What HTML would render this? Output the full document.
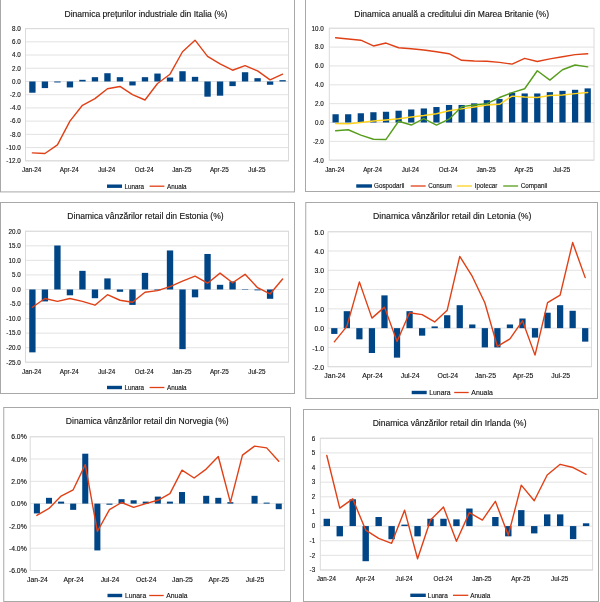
<!DOCTYPE html>
<html><head><meta charset="utf-8"><title>Charts</title>
<style>html,body{margin:0;padding:0;background:#fff}svg{display:block}text{font-family:"Liberation Sans",sans-serif;fill:#111;stroke:#111;stroke-width:0.12px}</style>
</head><body>
<svg width="600" height="602" viewBox="0 0 600 602">
<rect x="0" y="0" width="600" height="602" fill="#fff"/>
<rect x="0.5" y="-2" width="294" height="193.9" fill="#fff" stroke="#a8a8a8" stroke-width="1"/>
<line x1="25.5" y1="28.6" x2="288.5" y2="28.6" stroke="#dadada" stroke-width="0.8"/>
<line x1="25.5" y1="41.82" x2="288.5" y2="41.82" stroke="#dadada" stroke-width="0.8"/>
<line x1="25.5" y1="55.04" x2="288.5" y2="55.04" stroke="#dadada" stroke-width="0.8"/>
<line x1="25.5" y1="68.26" x2="288.5" y2="68.26" stroke="#dadada" stroke-width="0.8"/>
<line x1="25.5" y1="81.48" x2="288.5" y2="81.48" stroke="#dadada" stroke-width="0.8"/>
<line x1="25.5" y1="94.7" x2="288.5" y2="94.7" stroke="#dadada" stroke-width="0.8"/>
<line x1="25.5" y1="107.92" x2="288.5" y2="107.92" stroke="#dadada" stroke-width="0.8"/>
<line x1="25.5" y1="121.14" x2="288.5" y2="121.14" stroke="#dadada" stroke-width="0.8"/>
<line x1="25.5" y1="134.36" x2="288.5" y2="134.36" stroke="#dadada" stroke-width="0.8"/>
<line x1="25.5" y1="147.58" x2="288.5" y2="147.58" stroke="#dadada" stroke-width="0.8"/>
<line x1="25.5" y1="160.8" x2="288.5" y2="160.8" stroke="#dadada" stroke-width="0.8"/>
<rect x="25.5" y="28.6" width="263" height="132.2" fill="none" stroke="#dadada" stroke-width="1"/>
<text x="20.7" y="30.9" text-anchor="end" font-size="6.3">8.0</text>
<text x="20.7" y="44.12" text-anchor="end" font-size="6.3">6.0</text>
<text x="20.7" y="57.34" text-anchor="end" font-size="6.3">4.0</text>
<text x="20.7" y="70.56" text-anchor="end" font-size="6.3">2.0</text>
<text x="20.7" y="83.78" text-anchor="end" font-size="6.3">0.0</text>
<text x="20.7" y="97" text-anchor="end" font-size="6.3">-2.0</text>
<text x="20.7" y="110.22" text-anchor="end" font-size="6.3">-4.0</text>
<text x="20.7" y="123.44" text-anchor="end" font-size="6.3">-6.0</text>
<text x="20.7" y="136.66" text-anchor="end" font-size="6.3">-8.0</text>
<text x="20.7" y="149.88" text-anchor="end" font-size="6.3">-10.0</text>
<text x="20.7" y="163.1" text-anchor="end" font-size="6.3">-12.0</text>
<rect x="29.22" y="81.48" width="6.35" height="11.24" fill="#004586"/>
<rect x="41.73" y="81.48" width="6.35" height="6.61" fill="#004586"/>
<rect x="54.25" y="81.48" width="6.35" height="0.99" fill="#004586"/>
<rect x="66.76" y="81.48" width="6.35" height="5.95" fill="#004586"/>
<rect x="79.27" y="79.83" width="6.35" height="1.65" fill="#004586"/>
<rect x="91.78" y="77.18" width="6.35" height="4.3" fill="#004586"/>
<rect x="104.29" y="73.22" width="6.35" height="8.26" fill="#004586"/>
<rect x="116.8" y="77.18" width="6.35" height="4.3" fill="#004586"/>
<rect x="129.31" y="81.48" width="6.35" height="3.97" fill="#004586"/>
<rect x="141.81" y="77.18" width="6.35" height="4.3" fill="#004586"/>
<rect x="154.33" y="73.55" width="6.35" height="7.93" fill="#004586"/>
<rect x="166.84" y="77.51" width="6.35" height="3.97" fill="#004586"/>
<rect x="179.34" y="71.23" width="6.35" height="10.25" fill="#004586"/>
<rect x="191.86" y="76.85" width="6.35" height="4.63" fill="#004586"/>
<rect x="204.37" y="81.48" width="6.35" height="15.2" fill="#004586"/>
<rect x="216.88" y="81.48" width="6.35" height="14.21" fill="#004586"/>
<rect x="229.39" y="81.48" width="6.35" height="4.63" fill="#004586"/>
<rect x="241.9" y="72.23" width="6.35" height="9.25" fill="#004586"/>
<rect x="254.41" y="78.18" width="6.35" height="3.31" fill="#004586"/>
<rect x="266.92" y="81.48" width="6.35" height="3.3" fill="#004586"/>
<rect x="279.43" y="80.16" width="6.35" height="1.32" fill="#004586"/>
<polyline points="32.4,152.87 44.91,153.53 57.42,144.94 69.93,121.14 82.44,105.28 94.95,98.67 107.46,88.75 119.97,86.44 132.48,94.7 144.99,99.99 157.5,83.46 170.01,74.21 182.52,51.73 195.03,40.17 207.54,56.36 220.05,63.96 232.56,70.24 245.07,65.62 257.58,70.9 270.09,79.83 282.6,74.21" fill="none" stroke="#e04016" stroke-width="1.4" stroke-linejoin="round" stroke-linecap="round"/>
<text x="31.7" y="171.8" text-anchor="middle" font-size="6.3">Jan-24</text>
<text x="69.23" y="171.8" text-anchor="middle" font-size="6.3">Apr-24</text>
<text x="106.76" y="171.8" text-anchor="middle" font-size="6.3">Jul-24</text>
<text x="144.29" y="171.8" text-anchor="middle" font-size="6.3">Oct-24</text>
<text x="181.82" y="171.8" text-anchor="middle" font-size="6.3">Jan-25</text>
<text x="219.35" y="171.8" text-anchor="middle" font-size="6.3">Apr-25</text>
<text x="256.88" y="171.8" text-anchor="middle" font-size="6.3">Jul-25</text>
<text x="146" y="16.8" text-anchor="middle" font-size="8.55">Dinamica prețurilor industriale din Italia (%)</text>
<rect x="107" y="184.5" width="15" height="3.4" fill="#004586"/>
<text x="124.4" y="188.5" font-size="6.3">Lunara</text>
<line x1="149.6" y1="186.2" x2="164.4" y2="186.2" stroke="#e04016" stroke-width="1.3"/>
<text x="167" y="188.5" font-size="6.3">Anuala</text>
<rect x="305.5" y="-2" width="296.5" height="193.5" fill="#fff" stroke="#a8a8a8" stroke-width="1"/>
<line x1="329.3" y1="28.25" x2="594" y2="28.25" stroke="#dadada" stroke-width="0.8"/>
<line x1="329.3" y1="47.1" x2="594" y2="47.1" stroke="#dadada" stroke-width="0.8"/>
<line x1="329.3" y1="65.95" x2="594" y2="65.95" stroke="#dadada" stroke-width="0.8"/>
<line x1="329.3" y1="84.8" x2="594" y2="84.8" stroke="#dadada" stroke-width="0.8"/>
<line x1="329.3" y1="103.65" x2="594" y2="103.65" stroke="#dadada" stroke-width="0.8"/>
<line x1="329.3" y1="122.5" x2="594" y2="122.5" stroke="#dadada" stroke-width="0.8"/>
<line x1="329.3" y1="141.35" x2="594" y2="141.35" stroke="#dadada" stroke-width="0.8"/>
<line x1="329.3" y1="160.2" x2="594" y2="160.2" stroke="#dadada" stroke-width="0.8"/>
<rect x="329.3" y="28.25" width="264.7" height="131.95" fill="none" stroke="#dadada" stroke-width="1"/>
<text x="323.8" y="30.55" text-anchor="end" font-size="6.3">10.0</text>
<text x="323.8" y="49.4" text-anchor="end" font-size="6.3">8.0</text>
<text x="323.8" y="68.25" text-anchor="end" font-size="6.3">6.0</text>
<text x="323.8" y="87.1" text-anchor="end" font-size="6.3">4.0</text>
<text x="323.8" y="105.95" text-anchor="end" font-size="6.3">2.0</text>
<text x="323.8" y="124.8" text-anchor="end" font-size="6.3">0.0</text>
<text x="323.8" y="143.65" text-anchor="end" font-size="6.3">-2.0</text>
<text x="323.8" y="162.5" text-anchor="end" font-size="6.3">-4.0</text>
<rect x="332.48" y="114.25" width="6.25" height="8.25" fill="#004586"/>
<rect x="345.08" y="114.25" width="6.25" height="8.25" fill="#004586"/>
<rect x="357.69" y="113.26" width="6.25" height="9.24" fill="#004586"/>
<rect x="370.29" y="112.23" width="6.25" height="10.27" fill="#004586"/>
<rect x="382.9" y="111.76" width="6.25" height="10.74" fill="#004586"/>
<rect x="395.5" y="110.72" width="6.25" height="11.78" fill="#004586"/>
<rect x="408.11" y="109.49" width="6.25" height="13.01" fill="#004586"/>
<rect x="420.71" y="108.46" width="6.25" height="14.04" fill="#004586"/>
<rect x="433.32" y="107.04" width="6.25" height="15.46" fill="#004586"/>
<rect x="445.92" y="104.97" width="6.25" height="17.53" fill="#004586"/>
<rect x="458.53" y="104.97" width="6.25" height="17.53" fill="#004586"/>
<rect x="471.13" y="103.37" width="6.25" height="19.13" fill="#004586"/>
<rect x="483.74" y="100.16" width="6.25" height="22.34" fill="#004586"/>
<rect x="496.34" y="98.94" width="6.25" height="23.56" fill="#004586"/>
<rect x="508.95" y="92.72" width="6.25" height="29.78" fill="#004586"/>
<rect x="521.55" y="93.47" width="6.25" height="29.03" fill="#004586"/>
<rect x="534.15" y="93.47" width="6.25" height="29.03" fill="#004586"/>
<rect x="546.76" y="92.15" width="6.25" height="30.35" fill="#004586"/>
<rect x="559.37" y="90.83" width="6.25" height="31.67" fill="#004586"/>
<rect x="571.97" y="89.8" width="6.25" height="32.7" fill="#004586"/>
<rect x="584.58" y="88.38" width="6.25" height="34.12" fill="#004586"/>
<polyline points="335.6,37.77 348.21,38.99 360.81,40.22 373.42,45.97 386.02,43.05 398.62,47.76 411.23,48.8 423.84,50.02 436.44,51.81 449.05,53.7 461.65,60.3 474.25,61.05 486.86,61.24 499.47,62.37 512.07,64.16 524.68,58.41 537.28,61.52 549.88,58.88 562.49,56.71 575.1,54.64 587.7,53.79" fill="none" stroke="#e04016" stroke-width="1.4" stroke-linejoin="round" stroke-linecap="round"/>
<polyline points="335.6,123.44 348.21,123.73 360.81,122.5 373.42,120.99 386.02,119.96 398.62,118.73 411.23,117.03 423.84,115.53 436.44,113.73 449.05,110.72 461.65,108.83 474.25,106.95 486.86,104.97 499.47,104.31 512.07,96.11 524.68,97.05 537.28,97.52 549.88,95.54 562.49,94.98 575.1,93.66 587.7,92.43" fill="none" stroke="#ffd320" stroke-width="1.4" stroke-linejoin="round" stroke-linecap="round"/>
<polyline points="335.6,130.75 348.21,129.76 360.81,135.04 373.42,139.28 386.02,139.47 398.62,121.27 411.23,125.04 423.84,118.73 436.44,125.04 449.05,119.2 461.65,106.67 474.25,105.06 486.86,103.65 499.47,97.52 512.07,92.62 524.68,88.76 537.28,70.76 549.88,80.09 562.49,69.72 575.1,65.01 587.7,66.89" fill="none" stroke="#579d1c" stroke-width="1.4" stroke-linejoin="round" stroke-linecap="round"/>
<text x="334.8" y="171.8" text-anchor="middle" font-size="6.3">Jan-24</text>
<text x="372.62" y="171.8" text-anchor="middle" font-size="6.3">Apr-24</text>
<text x="410.43" y="171.8" text-anchor="middle" font-size="6.3">Jul-24</text>
<text x="448.25" y="171.8" text-anchor="middle" font-size="6.3">Oct-24</text>
<text x="486.06" y="171.8" text-anchor="middle" font-size="6.3">Jan-25</text>
<text x="523.88" y="171.8" text-anchor="middle" font-size="6.3">Apr-25</text>
<text x="561.69" y="171.8" text-anchor="middle" font-size="6.3">Jul-25</text>
<text x="451.7" y="16.8" text-anchor="middle" font-size="8.55">Dinamica anuală a creditului din Marea Britanie (%)</text>
<rect x="356.25" y="184.3" width="15.75" height="3.4" fill="#004586"/>
<text x="374" y="188.3" font-size="6.3">Gospodarii</text>
<line x1="410.7" y1="186" x2="425.7" y2="186" stroke="#e04016" stroke-width="1.3"/>
<text x="428.3" y="188.3" font-size="6.3">Consum</text>
<line x1="456.8" y1="186" x2="472" y2="186" stroke="#ffd320" stroke-width="1.3"/>
<text x="474.7" y="188.3" font-size="6.3">Ipotecar</text>
<line x1="503.2" y1="186" x2="518.1" y2="186" stroke="#579d1c" stroke-width="1.3"/>
<text x="520.8" y="188.3" font-size="6.3">Companii</text>
<rect x="0.5" y="202.5" width="294" height="191" fill="#fff" stroke="#a8a8a8" stroke-width="1"/>
<line x1="25.5" y1="231.25" x2="288.5" y2="231.25" stroke="#dadada" stroke-width="0.8"/>
<line x1="25.5" y1="245.81" x2="288.5" y2="245.81" stroke="#dadada" stroke-width="0.8"/>
<line x1="25.5" y1="260.36" x2="288.5" y2="260.36" stroke="#dadada" stroke-width="0.8"/>
<line x1="25.5" y1="274.92" x2="288.5" y2="274.92" stroke="#dadada" stroke-width="0.8"/>
<line x1="25.5" y1="289.47" x2="288.5" y2="289.47" stroke="#dadada" stroke-width="0.8"/>
<line x1="25.5" y1="304.03" x2="288.5" y2="304.03" stroke="#dadada" stroke-width="0.8"/>
<line x1="25.5" y1="318.58" x2="288.5" y2="318.58" stroke="#dadada" stroke-width="0.8"/>
<line x1="25.5" y1="333.14" x2="288.5" y2="333.14" stroke="#dadada" stroke-width="0.8"/>
<line x1="25.5" y1="347.69" x2="288.5" y2="347.69" stroke="#dadada" stroke-width="0.8"/>
<line x1="25.5" y1="362.25" x2="288.5" y2="362.25" stroke="#dadada" stroke-width="0.8"/>
<rect x="25.5" y="231.25" width="263" height="131" fill="none" stroke="#dadada" stroke-width="1"/>
<text x="20.7" y="233.55" text-anchor="end" font-size="6.3">20.0</text>
<text x="20.7" y="248.11" text-anchor="end" font-size="6.3">15.0</text>
<text x="20.7" y="262.66" text-anchor="end" font-size="6.3">10.0</text>
<text x="20.7" y="277.22" text-anchor="end" font-size="6.3">5.0</text>
<text x="20.7" y="291.77" text-anchor="end" font-size="6.3">0.0</text>
<text x="20.7" y="306.33" text-anchor="end" font-size="6.3">-5.0</text>
<text x="20.7" y="320.88" text-anchor="end" font-size="6.3">-10.0</text>
<text x="20.7" y="335.44" text-anchor="end" font-size="6.3">-15.0</text>
<text x="20.7" y="349.99" text-anchor="end" font-size="6.3">-20.0</text>
<text x="20.7" y="364.55" text-anchor="end" font-size="6.3">-25.0</text>
<rect x="29.22" y="289.47" width="6.35" height="62.88" fill="#004586"/>
<rect x="41.73" y="289.47" width="6.35" height="11.94" fill="#004586"/>
<rect x="54.25" y="245.51" width="6.35" height="43.96" fill="#004586"/>
<rect x="66.76" y="289.47" width="6.35" height="5.82" fill="#004586"/>
<rect x="79.27" y="270.84" width="6.35" height="18.63" fill="#004586"/>
<rect x="91.78" y="289.47" width="6.35" height="8.73" fill="#004586"/>
<rect x="104.29" y="278.41" width="6.35" height="11.06" fill="#004586"/>
<rect x="116.8" y="289.47" width="6.35" height="2.33" fill="#004586"/>
<rect x="129.31" y="289.47" width="6.35" height="15.43" fill="#004586"/>
<rect x="141.81" y="272.88" width="6.35" height="16.59" fill="#004586"/>
<rect x="154.33" y="289.47" width="6.35" height="0.87" fill="#004586"/>
<rect x="166.84" y="250.46" width="6.35" height="39.01" fill="#004586"/>
<rect x="179.34" y="289.47" width="6.35" height="59.68" fill="#004586"/>
<rect x="191.86" y="289.47" width="6.35" height="7.86" fill="#004586"/>
<rect x="204.37" y="253.96" width="6.35" height="35.52" fill="#004586"/>
<rect x="216.88" y="284.81" width="6.35" height="4.66" fill="#004586"/>
<rect x="229.39" y="281.47" width="6.35" height="8.01" fill="#004586"/>
<rect x="241.9" y="289.04" width="6.35" height="0.44" fill="#004586"/>
<rect x="254.41" y="289.47" width="6.35" height="0.87" fill="#004586"/>
<rect x="266.92" y="289.47" width="6.35" height="9.32" fill="#004586"/>
<polyline points="32.4,307.23 44.91,298.5 57.42,301.41 69.93,298.5 82.44,301.41 94.95,305.19 107.46,294.71 119.97,300.24 132.48,302.28 144.99,292.24 157.5,290.64 170.01,286.56 182.52,281.03 195.03,276.08 207.54,283.21 220.05,273.17 232.56,282.78 245.07,274.33 257.58,287.73 270.09,293.98 282.6,278.99" fill="none" stroke="#e04016" stroke-width="1.4" stroke-linejoin="round" stroke-linecap="round"/>
<text x="31.7" y="374.05" text-anchor="middle" font-size="6.3">Jan-24</text>
<text x="69.23" y="374.05" text-anchor="middle" font-size="6.3">Apr-24</text>
<text x="106.76" y="374.05" text-anchor="middle" font-size="6.3">Jul-24</text>
<text x="144.29" y="374.05" text-anchor="middle" font-size="6.3">Oct-24</text>
<text x="181.82" y="374.05" text-anchor="middle" font-size="6.3">Jan-25</text>
<text x="219.35" y="374.05" text-anchor="middle" font-size="6.3">Apr-25</text>
<text x="256.88" y="374.05" text-anchor="middle" font-size="6.3">Jul-25</text>
<text x="145.5" y="219.25" text-anchor="middle" font-size="8.55">Dinamica vânzărilor retail din Estonia (%)</text>
<rect x="107" y="385.8" width="15" height="3.4" fill="#004586"/>
<text x="124.4" y="389.8" font-size="6.3">Lunara</text>
<line x1="149.6" y1="387.5" x2="164.4" y2="387.5" stroke="#e04016" stroke-width="1.3"/>
<text x="167" y="389.8" font-size="6.3">Anuala</text>
<rect x="305.75" y="202.5" width="291.75" height="196" fill="#fff" stroke="#a8a8a8" stroke-width="1"/>
<line x1="328" y1="231.75" x2="591.5" y2="231.75" stroke="#dadada" stroke-width="0.8"/>
<line x1="328" y1="251.03" x2="591.5" y2="251.03" stroke="#dadada" stroke-width="0.8"/>
<line x1="328" y1="270.31" x2="591.5" y2="270.31" stroke="#dadada" stroke-width="0.8"/>
<line x1="328" y1="289.59" x2="591.5" y2="289.59" stroke="#dadada" stroke-width="0.8"/>
<line x1="328" y1="308.86" x2="591.5" y2="308.86" stroke="#dadada" stroke-width="0.8"/>
<line x1="328" y1="328.14" x2="591.5" y2="328.14" stroke="#dadada" stroke-width="0.8"/>
<line x1="328" y1="347.42" x2="591.5" y2="347.42" stroke="#dadada" stroke-width="0.8"/>
<line x1="328" y1="366.7" x2="591.5" y2="366.7" stroke="#dadada" stroke-width="0.8"/>
<rect x="328" y="231.75" width="263.5" height="134.95" fill="none" stroke="#dadada" stroke-width="1"/>
<text x="324" y="234.85" text-anchor="end" font-size="6.9">5.0</text>
<text x="324" y="254.13" text-anchor="end" font-size="6.9">4.0</text>
<text x="324" y="273.41" text-anchor="end" font-size="6.9">3.0</text>
<text x="324" y="292.69" text-anchor="end" font-size="6.9">2.0</text>
<text x="324" y="311.96" text-anchor="end" font-size="6.9">1.0</text>
<text x="324" y="331.24" text-anchor="end" font-size="6.9">0.0</text>
<text x="324" y="350.52" text-anchor="end" font-size="6.9">-1.0</text>
<text x="324" y="369.8" text-anchor="end" font-size="6.9">-2.0</text>
<rect x="331.18" y="328.14" width="6.25" height="5.78" fill="#004586"/>
<rect x="343.72" y="311.18" width="6.25" height="16.97" fill="#004586"/>
<rect x="356.26" y="328.14" width="6.25" height="11.18" fill="#004586"/>
<rect x="368.81" y="328.14" width="6.25" height="24.87" fill="#004586"/>
<rect x="381.36" y="295.37" width="6.25" height="32.77" fill="#004586"/>
<rect x="393.9" y="328.14" width="6.25" height="29.5" fill="#004586"/>
<rect x="406.45" y="311.18" width="6.25" height="16.97" fill="#004586"/>
<rect x="418.99" y="328.14" width="6.25" height="7.52" fill="#004586"/>
<rect x="431.54" y="326.41" width="6.25" height="1.74" fill="#004586"/>
<rect x="444.08" y="315.23" width="6.25" height="12.92" fill="#004586"/>
<rect x="456.62" y="305.2" width="6.25" height="22.94" fill="#004586"/>
<rect x="469.17" y="324.48" width="6.25" height="3.66" fill="#004586"/>
<rect x="481.72" y="328.14" width="6.25" height="19.28" fill="#004586"/>
<rect x="494.26" y="328.14" width="6.25" height="19.28" fill="#004586"/>
<rect x="506.81" y="324.48" width="6.25" height="3.66" fill="#004586"/>
<rect x="519.35" y="318.5" width="6.25" height="9.64" fill="#004586"/>
<rect x="531.89" y="328.14" width="6.25" height="9.45" fill="#004586"/>
<rect x="544.44" y="312.72" width="6.25" height="15.42" fill="#004586"/>
<rect x="556.99" y="305.2" width="6.25" height="22.94" fill="#004586"/>
<rect x="569.53" y="310.79" width="6.25" height="17.35" fill="#004586"/>
<rect x="582.08" y="328.14" width="6.25" height="13.5" fill="#004586"/>
<polyline points="334.3,341.83 346.85,326.41 359.39,281.87 371.94,318.12 384.48,307.13 397.03,341.45 409.57,312.72 422.12,314.65 434.66,321.97 447.21,310.21 459.75,256.43 472.3,276.48 484.84,302.7 497.39,346.46 509.93,338.94 522.48,320.82 535.02,355.13 547.57,302.7 560.11,295.18 572.65,242.55 585.2,277.63" fill="none" stroke="#e04016" stroke-width="1.4" stroke-linejoin="round" stroke-linecap="round"/>
<text x="334.9" y="378.3" text-anchor="middle" font-size="6.9">Jan-24</text>
<text x="372.54" y="378.3" text-anchor="middle" font-size="6.9">Apr-24</text>
<text x="410.17" y="378.3" text-anchor="middle" font-size="6.9">Jul-24</text>
<text x="447.81" y="378.3" text-anchor="middle" font-size="6.9">Oct-24</text>
<text x="485.44" y="378.3" text-anchor="middle" font-size="6.9">Jan-25</text>
<text x="523.08" y="378.3" text-anchor="middle" font-size="6.9">Apr-25</text>
<text x="560.71" y="378.3" text-anchor="middle" font-size="6.9">Jul-25</text>
<text x="452.25" y="219.25" text-anchor="middle" font-size="8.7">Dinamica vânzărilor retail din Letonia (%)</text>
<rect x="411.7" y="390.8" width="15" height="3.4" fill="#004586"/>
<text x="429.2" y="394.8" font-size="6.9">Lunara</text>
<line x1="454.2" y1="392.5" x2="468.7" y2="392.5" stroke="#e04016" stroke-width="1.3"/>
<text x="471.3" y="394.8" font-size="6.9">Anuala</text>
<rect x="3.75" y="407.5" width="286.75" height="194" fill="#fff" stroke="#a8a8a8" stroke-width="1"/>
<line x1="30.2" y1="436.75" x2="284.5" y2="436.75" stroke="#dadada" stroke-width="0.8"/>
<line x1="30.2" y1="459.04" x2="284.5" y2="459.04" stroke="#dadada" stroke-width="0.8"/>
<line x1="30.2" y1="481.33" x2="284.5" y2="481.33" stroke="#dadada" stroke-width="0.8"/>
<line x1="30.2" y1="503.62" x2="284.5" y2="503.62" stroke="#dadada" stroke-width="0.8"/>
<line x1="30.2" y1="525.92" x2="284.5" y2="525.92" stroke="#dadada" stroke-width="0.8"/>
<line x1="30.2" y1="548.21" x2="284.5" y2="548.21" stroke="#dadada" stroke-width="0.8"/>
<line x1="30.2" y1="570.5" x2="284.5" y2="570.5" stroke="#dadada" stroke-width="0.8"/>
<rect x="30.2" y="436.75" width="254.3" height="133.75" fill="none" stroke="#dadada" stroke-width="1"/>
<text x="26.7" y="439.45" text-anchor="end" font-size="6.8">6.0%</text>
<text x="26.7" y="461.74" text-anchor="end" font-size="6.8">4.0%</text>
<text x="26.7" y="484.03" text-anchor="end" font-size="6.8">2.0%</text>
<text x="26.7" y="506.32" text-anchor="end" font-size="6.8">0.0%</text>
<text x="26.7" y="528.62" text-anchor="end" font-size="6.8">-2.0%</text>
<text x="26.7" y="550.91" text-anchor="end" font-size="6.8">-4.0%</text>
<text x="26.7" y="573.2" text-anchor="end" font-size="6.8">-6.0%</text>
<rect x="33.88" y="503.62" width="6.05" height="9.81" fill="#004586"/>
<rect x="45.97" y="497.83" width="6.05" height="5.8" fill="#004586"/>
<rect x="58.06" y="501.62" width="6.05" height="2.01" fill="#004586"/>
<rect x="70.15" y="503.62" width="6.05" height="6.24" fill="#004586"/>
<rect x="82.24" y="453.69" width="6.05" height="49.93" fill="#004586"/>
<rect x="94.34" y="503.62" width="6.05" height="46.81" fill="#004586"/>
<rect x="106.43" y="503.62" width="6.05" height="1.11" fill="#004586"/>
<rect x="118.52" y="499.17" width="6.05" height="4.46" fill="#004586"/>
<rect x="130.61" y="500.28" width="6.05" height="3.34" fill="#004586"/>
<rect x="142.71" y="501.62" width="6.05" height="2.01" fill="#004586"/>
<rect x="154.8" y="496.6" width="6.05" height="7.02" fill="#004586"/>
<rect x="166.89" y="501.62" width="6.05" height="2.01" fill="#004586"/>
<rect x="178.98" y="492.03" width="6.05" height="11.59" fill="#004586"/>
<rect x="203.17" y="495.82" width="6.05" height="7.8" fill="#004586"/>
<rect x="215.26" y="497.83" width="6.05" height="5.8" fill="#004586"/>
<rect x="227.35" y="502.18" width="6.05" height="1.45" fill="#004586"/>
<rect x="251.54" y="495.82" width="6.05" height="7.8" fill="#004586"/>
<rect x="263.63" y="502.62" width="6.05" height="1" fill="#004586"/>
<rect x="275.73" y="503.62" width="6.05" height="5.57" fill="#004586"/>
<polyline points="36.9,515.44 48.99,508.42 61.08,496.05 73.18,489.8 85.27,464.61 97.36,531.49 109.45,509.64 121.55,502.51 133.64,507.41 145.73,503.62 157.82,500.28 169.92,493.59 182.01,470.19 194.1,477.99 206.19,469.07 218.29,456.48 230.38,502.4 242.47,455.14 254.56,446.11 266.66,447.9 278.75,461.27" fill="none" stroke="#e04016" stroke-width="1.4" stroke-linejoin="round" stroke-linecap="round"/>
<text x="37.4" y="581.8" text-anchor="middle" font-size="6.8">Jan-24</text>
<text x="73.68" y="581.8" text-anchor="middle" font-size="6.8">Apr-24</text>
<text x="109.95" y="581.8" text-anchor="middle" font-size="6.8">Jul-24</text>
<text x="146.23" y="581.8" text-anchor="middle" font-size="6.8">Oct-24</text>
<text x="182.51" y="581.8" text-anchor="middle" font-size="6.8">Jan-25</text>
<text x="218.79" y="581.8" text-anchor="middle" font-size="6.8">Apr-25</text>
<text x="255.06" y="581.8" text-anchor="middle" font-size="6.8">Jul-25</text>
<text x="147.25" y="424.25" text-anchor="middle" font-size="8.6">Dinamica vânzărilor retail din Norvegia (%)</text>
<rect x="107.5" y="593.8" width="14.7" height="3.4" fill="#004586"/>
<text x="125" y="597.8" font-size="6.8">Lunara</text>
<line x1="149.2" y1="595.5" x2="163.7" y2="595.5" stroke="#e04016" stroke-width="1.3"/>
<text x="166.3" y="597.8" font-size="6.8">Anuala</text>
<rect x="303.5" y="409.5" width="295" height="192" fill="#fff" stroke="#a8a8a8" stroke-width="1"/>
<line x1="320.3" y1="438.25" x2="592.6" y2="438.25" stroke="#dadada" stroke-width="0.8"/>
<line x1="320.3" y1="452.89" x2="592.6" y2="452.89" stroke="#dadada" stroke-width="0.8"/>
<line x1="320.3" y1="467.53" x2="592.6" y2="467.53" stroke="#dadada" stroke-width="0.8"/>
<line x1="320.3" y1="482.17" x2="592.6" y2="482.17" stroke="#dadada" stroke-width="0.8"/>
<line x1="320.3" y1="496.81" x2="592.6" y2="496.81" stroke="#dadada" stroke-width="0.8"/>
<line x1="320.3" y1="511.44" x2="592.6" y2="511.44" stroke="#dadada" stroke-width="0.8"/>
<line x1="320.3" y1="526.08" x2="592.6" y2="526.08" stroke="#dadada" stroke-width="0.8"/>
<line x1="320.3" y1="540.72" x2="592.6" y2="540.72" stroke="#dadada" stroke-width="0.8"/>
<line x1="320.3" y1="555.36" x2="592.6" y2="555.36" stroke="#dadada" stroke-width="0.8"/>
<line x1="320.3" y1="570" x2="592.6" y2="570" stroke="#dadada" stroke-width="0.8"/>
<rect x="320.3" y="438.25" width="272.3" height="131.75" fill="none" stroke="#dadada" stroke-width="1"/>
<text x="315.2" y="440.55" text-anchor="end" font-size="6.3">6</text>
<text x="315.2" y="455.19" text-anchor="end" font-size="6.3">5</text>
<text x="315.2" y="469.83" text-anchor="end" font-size="6.3">4</text>
<text x="315.2" y="484.47" text-anchor="end" font-size="6.3">3</text>
<text x="315.2" y="499.11" text-anchor="end" font-size="6.3">2</text>
<text x="315.2" y="513.74" text-anchor="end" font-size="6.3">1</text>
<text x="315.2" y="528.38" text-anchor="end" font-size="6.3">0</text>
<text x="315.2" y="543.02" text-anchor="end" font-size="6.3">-1</text>
<text x="315.2" y="557.66" text-anchor="end" font-size="6.3">-2</text>
<text x="315.2" y="572.3" text-anchor="end" font-size="6.3">-3</text>
<rect x="323.6" y="518.76" width="6.4" height="7.32" fill="#004586"/>
<rect x="336.56" y="526.08" width="6.4" height="10.25" fill="#004586"/>
<rect x="349.53" y="499.29" width="6.4" height="26.79" fill="#004586"/>
<rect x="362.5" y="526.08" width="6.4" height="35.13" fill="#004586"/>
<rect x="375.46" y="517.01" width="6.4" height="9.08" fill="#004586"/>
<rect x="388.43" y="526.08" width="6.4" height="13.17" fill="#004586"/>
<rect x="401.39" y="524.62" width="6.4" height="1.46" fill="#004586"/>
<rect x="414.36" y="526.08" width="6.4" height="10.25" fill="#004586"/>
<rect x="427.32" y="518.76" width="6.4" height="7.32" fill="#004586"/>
<rect x="440.29" y="518.76" width="6.4" height="7.32" fill="#004586"/>
<rect x="453.25" y="519.35" width="6.4" height="6.73" fill="#004586"/>
<rect x="466.22" y="508.52" width="6.4" height="17.57" fill="#004586"/>
<rect x="492.15" y="517.01" width="6.4" height="9.08" fill="#004586"/>
<rect x="505.11" y="526.08" width="6.4" height="10.25" fill="#004586"/>
<rect x="518.07" y="510.13" width="6.4" height="15.96" fill="#004586"/>
<rect x="531.04" y="526.08" width="6.4" height="7.32" fill="#004586"/>
<rect x="544" y="514.37" width="6.4" height="11.71" fill="#004586"/>
<rect x="556.97" y="514.37" width="6.4" height="11.71" fill="#004586"/>
<rect x="569.93" y="526.08" width="6.4" height="13.03" fill="#004586"/>
<rect x="582.9" y="523.3" width="6.4" height="2.78" fill="#004586"/>
<polyline points="326.8,455.52 339.76,508.08 352.73,498.86 365.69,530.04 378.66,538.38 391.62,543.36 404.59,510.13 417.56,558.73 430.52,520.08 443.49,507.05 456.45,541.31 469.42,512.62 482.38,520.08 495.35,501.34 508.31,535.16 521.27,485.09 534.24,500.76 547.21,474.99 560.17,464.31 573.13,467.53 586.1,474.26" fill="none" stroke="#e04016" stroke-width="1.4" stroke-linejoin="round" stroke-linecap="round"/>
<text x="326.3" y="581.3" text-anchor="middle" font-size="6.3">Jan-24</text>
<text x="365.19" y="581.3" text-anchor="middle" font-size="6.3">Apr-24</text>
<text x="404.09" y="581.3" text-anchor="middle" font-size="6.3">Jul-24</text>
<text x="442.99" y="581.3" text-anchor="middle" font-size="6.3">Oct-24</text>
<text x="481.88" y="581.3" text-anchor="middle" font-size="6.3">Jan-25</text>
<text x="520.77" y="581.3" text-anchor="middle" font-size="6.3">Apr-25</text>
<text x="559.67" y="581.3" text-anchor="middle" font-size="6.3">Jul-25</text>
<text x="449.6" y="426" text-anchor="middle" font-size="8.55">Dinamica vânzărilor retail din Irlanda (%)</text>
<rect x="410.3" y="593.6" width="15.5" height="3.4" fill="#004586"/>
<text x="427.8" y="597.6" font-size="6.45">Lunara</text>
<line x1="453" y1="595.3" x2="468.3" y2="595.3" stroke="#e04016" stroke-width="1.3"/>
<text x="470.2" y="597.6" font-size="6.45">Anuala</text>
</svg>
</body></html>
